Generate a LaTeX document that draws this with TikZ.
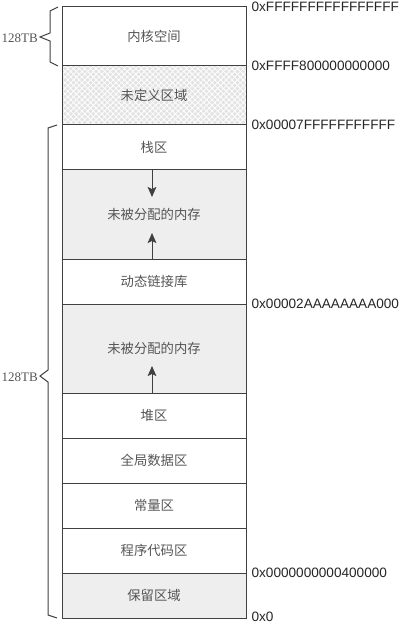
\documentclass[tikz,border=0pt]{standalone}
\usepackage{fontspec}
\setmainfont{Liberation Sans}
\newfontfamily\cjk{Noto Sans CJK SC}
\newfontfamily\sizefont{Liberation Serif}
\usetikzlibrary{patterns.meta,arrows.meta}
\definecolor{linegray}{HTML}{404040}
\definecolor{textgray}{HTML}{555555}
\definecolor{freegray}{HTML}{EEEEEE}

\begin{document}
\begin{tikzpicture}[x=0.75pt,y=-0.75pt,
    region/.style={draw=linegray, line width=0.75pt, minimum width=138pt, inner sep=0pt,
      outer sep=0pt, anchor=north, font=\cjk\fontsize{10}{12}\selectfont, text=textgray},
    freeregion/.style={region, fill=freegray},
    voidregion/.style={region, preaction={fill=black!11},
      preaction={pattern={Lines[angle=45,distance=3pt,line width=0.6pt]}, pattern color=white},
      pattern={Lines[angle=-45,distance=3pt,line width=0.6pt]}, pattern color=white},
    addr/.style={anchor=west, inner sep=0pt, font=\fontsize{10.2}{12}\selectfont, text=black!85},
    sizelabel/.style={anchor=east, inner sep=0pt, font=\sizefont\fontsize{9.75}{12}\selectfont, text=textgray},
    growarrow/.style={-{Stealth[width=6.5pt,length=7.5pt,inset=1.5pt]}, draw=linegray, line width=0.75pt},
    bracket/.style={draw=linegray, line width=0.75pt}]
  \useasboundingbox (0,0) rectangle (402,623);
  % regions, top to bottom
  \node[region, minimum height=44.25pt] (kernel) at (154,7) {内核空间};
  \node[voidregion, minimum height=44.25pt] (undef) at (kernel.south) {未定义区域};
  \node[region, minimum height=33.75pt] (stack) at (undef.south) {栈区};
  \node[freeregion, minimum height=66.75pt] (freeup) at (stack.south) {未被分配的内存};
  \node[region, minimum height=33.75pt] (dylib) at (freeup.south) {动态链接库};
  \node[freeregion, minimum height=66.75pt] (freelow) at (dylib.south) {未被分配的内存};
  \node[region, minimum height=33.75pt] (heap) at (freelow.south) {堆区};
  \node[region, minimum height=33.75pt] (data) at (heap.south) {全局数据区};
  \node[region, minimum height=33.75pt] (const) at (data.south) {常量区};
  \node[region, minimum height=33.75pt] (code) at (const.south) {程序代码区};
  \node[freeregion, minimum height=33.75pt] (reserved) at (code.south) {保留区域};
  % growth arrows
  \coordinate (stacktip) at (152,197);
  \coordinate (dylibtip) at (152,233);
  \coordinate (heaptip) at (152,366);
  \draw[growarrow] (stacktip |- stack.south) -- (stacktip);
  \draw[growarrow] (dylibtip |- dylib.north) -- (dylibtip);
  \draw[growarrow] (heaptip |- heap.north) -- (heaptip);
  % addresses
  \node[addr] (addrtop) at ([xshift=4pt,yshift=0.5pt]kernel.north east) {0xFFFFFFFFFFFFFFFF};
  \node[addr] (addrkernel) at ([xshift=4pt]kernel.south east) {0xFFFF800000000000};
  \node[addr] (addruser) at ([xshift=4pt]undef.south east) {0x00007FFFFFFFFFFF};
  \node[addr] (addrdylib) at ([xshift=4pt]dylib.south east) {0x00002AAAAAAAA000};
  \node[addr] (addrcode) at ([xshift=4pt]code.south east) {0x0000000000400000};
  \node[addr] (addrzero) at ([xshift=4pt,yshift=0.75pt]reserved.south east) {0x0};
  % braces
  \draw[bracket] (58,7) -- (50,11) -- (50,33) -- (40,37) -- (50,41) -- (50,62) -- (58,66);
  \node[sizelabel] (kernelsize) at (38,38) {128TB};
  \draw[bracket] (57,125) -- (48,128) -- (48,370) -- (40,376) -- (48,382) -- (48,615) -- (57,618);
  \node[sizelabel] (usersize) at (38,377) {128TB};
\end{tikzpicture}
\end{document}
